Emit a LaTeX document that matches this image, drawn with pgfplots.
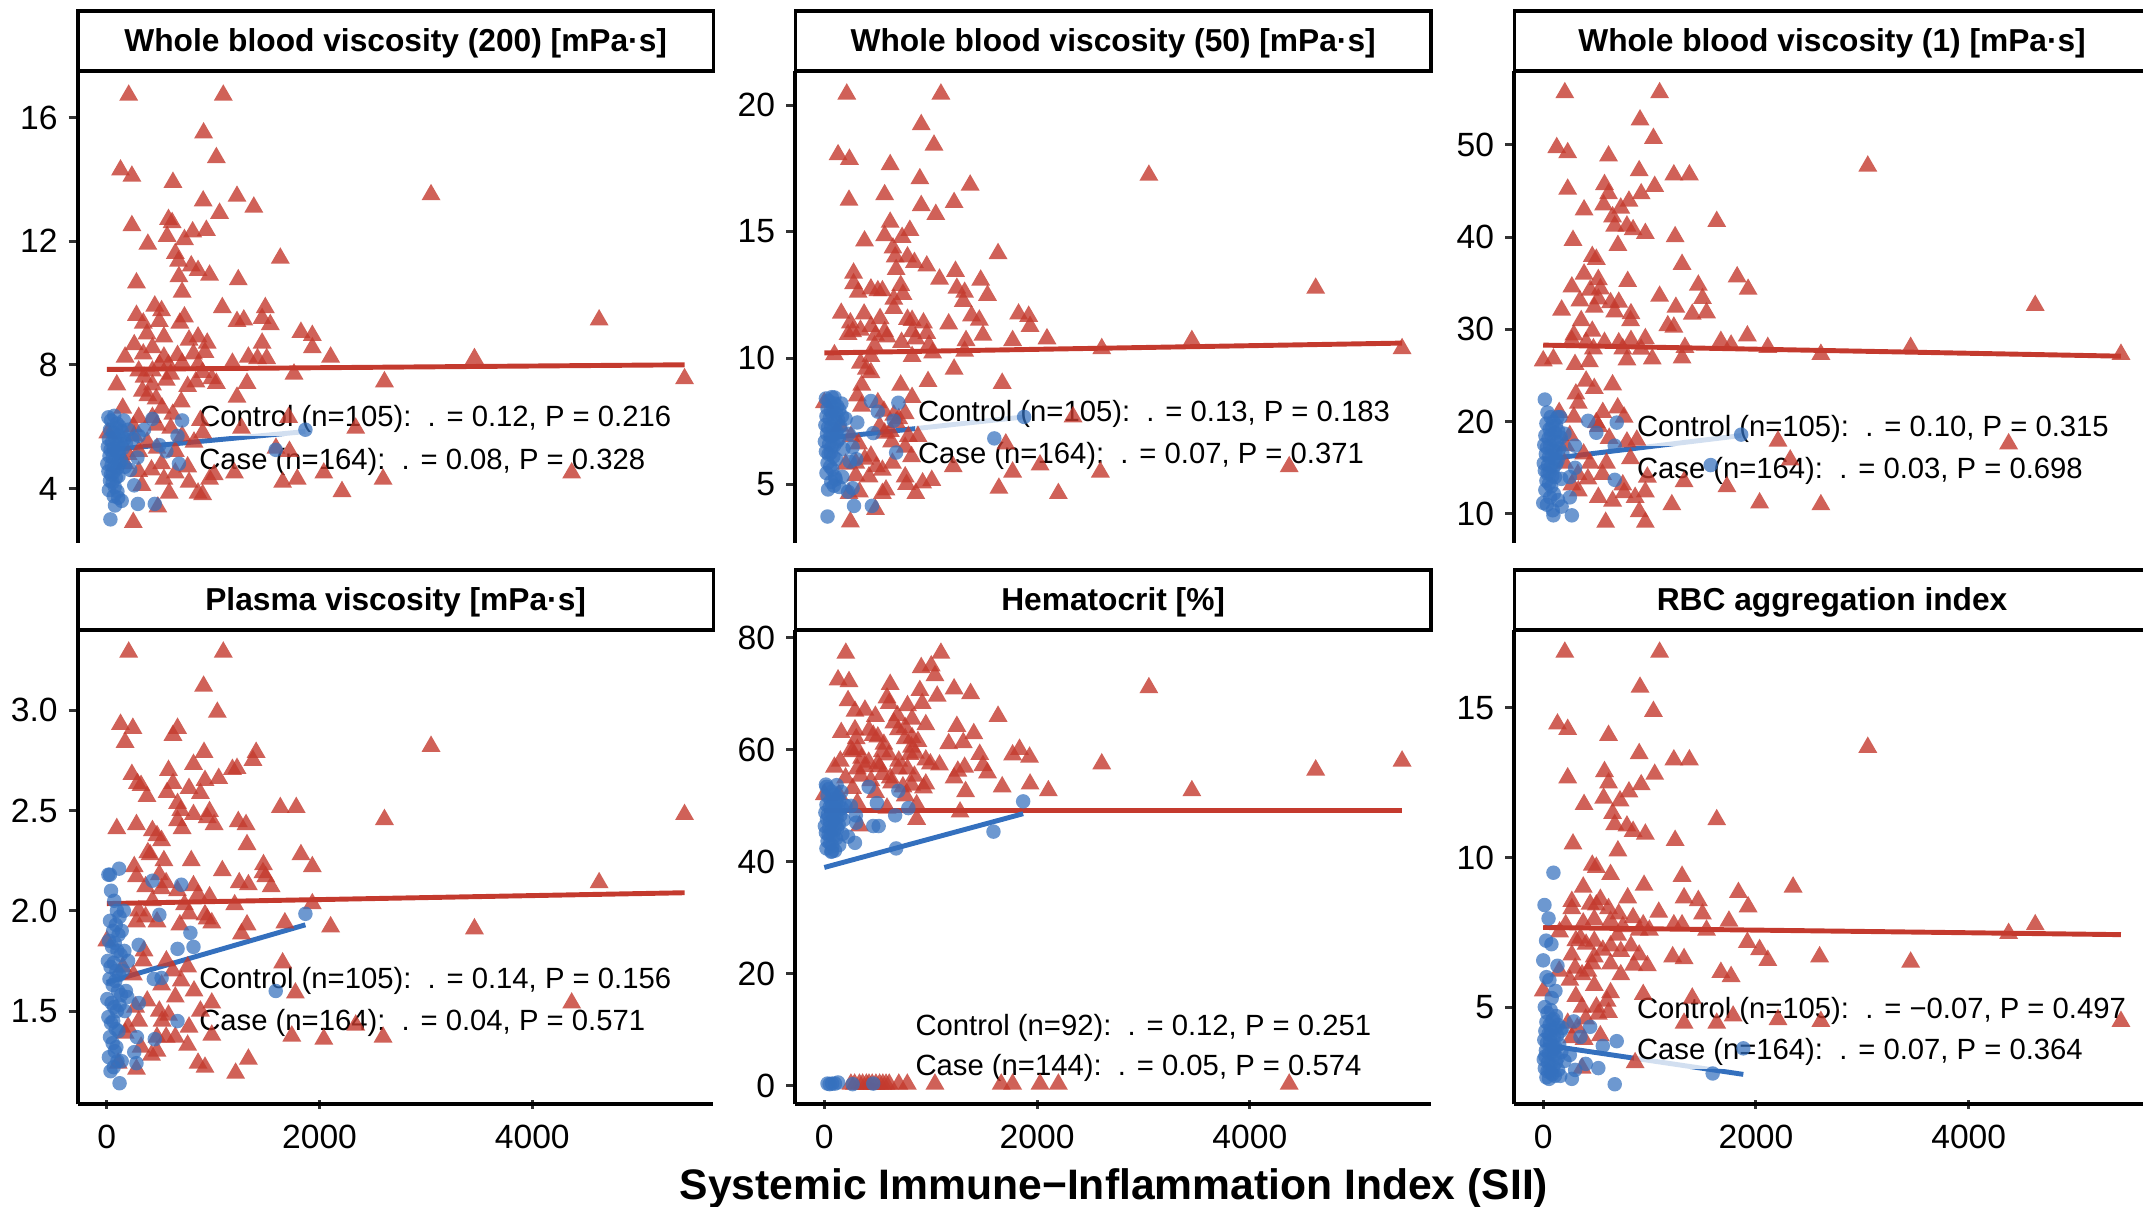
\documentclass[border=0pt]{standalone}
\usepackage{fontspec}
\setmainfont{Liberation Sans}
\usepackage{pgfplots}
\pgfplotsset{compat=1.18}

\definecolor{casered}{RGB}{196,58,46}
\definecolor{ctrlblue}{RGB}{52,112,190}
\definecolor{tickgray}{RGB}{51,51,51}

\pgfplotsset{
  facet/.style={
    scale only axis, width=232.5pt, height=172.5pt, anchor=south west,
    xmin=-271.6, xmax=5702.6,
    axis y line=left,
    axis line style={line width=1.5pt, black},
    y axis line style={-},
    tick align=outside, major tick length=3.4pt,
    major tick style={line width=1.1pt, tickgray},
    tick label style={font=\fontsize{12.3}{14}\selectfont},
    yticklabel style={xshift=-0.5pt},
    /pgf/number format/assume math mode=true,
    /pgf/number format/1000 sep={},
    scaled ticks=false,
  },
  toprow/.style={facet, axis x line=none, xtick=\empty},
  botrow/.style={facet, height=173.5pt, axis x line=bottom, x axis line style={-},
    xtick={0,2000,4000}, xticklabel style={yshift=-2.5pt}},
  casepts/.style={only marks, mark=triangle*, mark size=4.0pt,
    mark options={draw opacity=0, line width=0pt, fill=casered, fill opacity=0.8}},
  ctrlpts/.style={only marks, mark=*, mark size=2.65pt,
    mark options={draw opacity=0, line width=0pt, fill=ctrlblue, fill opacity=0.72}},
  caseline/.style={no marks, casered, line width=1.8pt},
  ctrlline/.style={no marks, ctrlblue, line width=1.8pt},
}
\tikzset{
  stat/.style={anchor=west, fill=white, fill opacity=0.78, text opacity=1,
    inner sep=1.2pt, font=\fontsize{10.7}{12}\selectfont},
}
\newcommand{\strip}[3]{%
  \draw[line width=1.3pt, fill=white] (#1,#2) rectangle ++(232.5pt,22pt);
  \node[font=\bfseries\fontsize{11.6}{14}\selectfont] at ([xshift=116.25pt,yshift=10pt]#1,#2) {#3};}

\begin{document}
\begin{tikzpicture}

% ---------- Whole blood viscosity (200) ----------
\begin{axis}[toprow, at={(28.5pt,243pt)}, ymin=2.25, ymax=17.5, ytick={4,8,12,16}]
\addplot[casepts] coordinates {
(206,16.72)(1095,16.72)(910,15.5)(1030,14.7)(129,14.3)(236,14.1)(622,13.9)(3048,13.5)(1224,13.45)(906,13.3)
(1382,13.1)(1060,12.9)(236,12.5)(580,12.7)(614,12.6)(936,12.35)(807,12.3)(567,12.15)(730,12.05)(386,11.9)
(644,11.6)(1631,11.45)(674,11.35)(794,11.2)(858,11.05)(966,10.9)(678,10.85)(279,10.65)(1236,10.75)(708,10.35)
(451,9.9)(1086,9.85)(1490,9.85)(279,9.6)(515,9.75)(730,9.55)(687,9.35)(1288,9.45)(1224,9.4)(1460,9.5)
(1537,9.3)(343,9.35)(494,9.4)(4628,9.45)(1825,9.05)(1932,8.95)(378,9.0)(537,8.9)(773,8.8)(858,8.9)
(944,8.7)(1460,8.7)(258,8.65)(429,8.55)(1932,8.55)(172,8.25)(343,8.35)(537,8.25)(665,8.3)(815,8.35)
(923,8.4)(1331,8.25)(1417,8.2)(1503,8.2)(2104,8.25)(3456,8.2)(1181,8.05)(494,8.0)(580,8.0)(708,8.05)
(858,8.0)(300,7.8)(429,7.8)(601,7.7)(901,7.75)(1760,7.7)(987,7.55)(837,7.45)(1030,7.4)(5431,7.55)
(2610,7.45)(1318,7.4)(94,7.35)(429,7.35)(335,7.15)(386,7.0)(464,6.9)(1224,6.95)(10,5.8)(1266,5.95)
(1709,6.3)(2340,5.95)(901,5.8)(1717,5.2)(2040,4.5)(1200,4.5)(4370,4.5)(1590,5.3)(300,6.3)(429,6.3)
(472,6.05)(601,5.95)(708,5.7)(472,5.3)(644,5.2)(300,5.2)(300,4.55)(515,4.8)(644,4.5)(537,4.3)
(773,4.2)(966,4.3)(1009,4.45)(1653,4.2)(1790,4.3)(2597,4.3)(2211,3.9)(858,3.85)(901,3.8)(586,3.85)
(480,3.4)(249,2.9)(172,4.8)(258,5.7)(350,7.6)(560,7.5)(760,7.3)(250,6.0)(380,5.5)(820,5.5)
(150,6.6)(520,6.6)(700,6.8)(880,6.2)(330,4.1)(420,4.6)(200,5.1)(620,6.4)(760,4.7)
};
\addplot[ctrlpts] coordinates {
(15,6.3)(40,6.2)(70,6.35)(95,6.1)(120,6.0)(30,5.9)(60,5.8)(85,5.95)(110,5.7)(140,5.85)
(20,5.6)(50,5.5)(75,5.65)(100,5.45)(130,5.55)(165,5.6)(10,5.35)(35,5.25)(65,5.3)(90,5.2)
(115,5.15)(150,5.3)(25,5.05)(55,5.0)(80,4.95)(105,5.1)(135,4.9)(5,4.8)(45,4.75)(70,4.7)
(95,4.65)(120,4.8)(15,4.55)(40,4.45)(60,4.5)(85,4.35)(110,4.4)(30,4.25)(55,4.2)(75,4.05)
(20,3.95)(100,3.9)(65,3.75)(140,3.6)(170,4.7)(180,5.45)(200,5.9)(160,6.2)
(34,3.0)(77,3.45)(292,3.5)(451,3.5)(107,3.7)(258,4.1)(429,6.25)(708,6.2)(300,5.7)(665,5.7)
(494,5.4)(678,4.8)(288,5.0)(1588,5.25)(1867,5.9)(240,5.6)(220,4.6)(350,5.9)(560,5.2)
};
\addplot[caseline] coordinates {(0,7.85)(5431,8.0)};
\addplot[ctrlline] coordinates {(0,5.24)(1867,5.84)};
\node[stat] at (rel axis cs:0.185,0.262) {Control (n=105):\ \ . = 0.12, P = 0.216};
\node[stat] at (rel axis cs:0.185,0.172) {Case (n=164):\ \ . = 0.08, P = 0.328};
\end{axis}
\strip{28.5pt}{415.5pt}{Whole blood viscosity (200) [mPa·s]}

% ---------- Whole blood viscosity (50) ----------
\begin{axis}[toprow, at={(291pt,243pt)}, ymin=2.7, ymax=21.35, ytick={5,10,15,20}]
\addplot[casepts] coordinates {
(211,20.44)(1096,20.44)(911,19.23)(1031,18.42)(129,18.04)(236,17.86)(619,17.65)(3051,17.23)(898,17.09)(1371,16.84)
(232,16.24)(567,16.46)(1220,16.15)(911,16.03)(1048,15.68)(619,15.37)(567,14.84)(804,15.05)(731,14.77)(378,14.63)
(645,14.35)(1633,14.13)(666,14.0)(782,14.0)(847,13.78)(963,13.64)(275,13.36)(1233,13.43)(675,13.5)(1083,13.12)
(1470,13.08)(4619,12.76)(275,12.94)(438,12.73)(503,12.66)(546,12.66)(718,12.87)(739,12.52)(1246,12.76)(1319,12.6)
(1534,12.48)(318,12.6)(653,12.33)(1306,12.24)(653,11.96)(159,11.77)(374,11.74)(1826,11.74)(1921,11.65)(524,11.56)
(782,11.53)(825,11.49)(1384,11.67)(1457,11.5)(245,11.39)(932,11.39)(1169,11.35)(438,11.25)(1934,11.25)(266,11.04)
(567,11.04)(825,11.04)(963,10.97)(481,10.9)(1491,10.9)(223,10.93)(589,10.83)(340,11.1)(2093,10.76)(1770,10.69)
(3455,10.69)(726,10.62)(860,10.76)(1332,10.69)(984,10.51)(473,10.48)(2608,10.37)(5431,10.37)(1018,10.2)(1319,10.27)
(95,10.13)(825,10.06)(340,9.8)(438,10.06)(395,9.56)(1220,9.56)(438,9.42)(352,8.93)(975,9.07)(1672,9.0)
(718,8.93)(0,8.23)(310,8.5)(503,8.23)(653,7.74)(2338,7.67)(825,8.44)(322,6.6)(632,6.68)(567,7.03)
(760,6.47)(1212,5.7)(2028,5.77)(1706,6.6)(4370,5.7)(1770,5.49)(2595,5.49)(296,5.84)(490,5.7)(640,5.84)
(438,6.12)(296,5.35)(546,5.56)(773,5.0)(924,5.06)(1010,5.16)(860,4.64)(546,4.64)(580,4.78)(1641,4.85)
(2200,4.64)(232,4.64)(481,4.01)(245,3.52)(790,6.9)(675,7.45)(350,8.1)(560,7.9)(760,7.8)(250,6.9)
(380,6.0)(820,6.1)(150,7.3)(520,7.3)(700,7.6)(880,6.9)(330,4.7)(420,5.3)(200,5.8)(620,7.1)(760,5.3)
};
\addplot[ctrlpts] coordinates {
(15,8.4)(40,8.3)(70,8.45)(95,8.2)(120,8.1)(30,8.0)(60,7.9)(85,8.05)(110,7.8)(140,7.95)
(20,7.7)(50,7.6)(75,7.75)(100,7.5)(130,7.55)(165,7.7)(10,7.35)(35,7.25)(65,7.3)(90,7.2)
(115,7.1)(150,7.3)(25,7.0)(55,6.9)(80,6.95)(105,7.0)(135,6.8)(5,6.7)(45,6.6)(70,6.5)
(95,6.55)(120,6.7)(15,6.3)(40,6.2)(60,6.25)(85,6.1)(110,6.0)(30,5.85)(55,5.7)(75,5.6)
(20,5.45)(100,5.3)(65,5.1)(140,4.9)(170,5.3)(180,6.4)(200,7.6)(160,8.2)(35,4.8)(90,4.95)
(30,3.73)(279,4.15)(447,4.15)(266,4.85)(223,4.71)(107,5.2)(438,8.3)(696,8.23)(95,8.44)(503,7.88)
(310,7.45)(653,7.52)(460,7.03)(675,6.26)(266,6.47)(1598,6.82)(1878,7.67)(230,7.0)(240,5.9)(300,6.0)
};
\addplot[caseline] coordinates {(0,10.2)(5431,10.59)};
\addplot[ctrlline] coordinates {(0,6.82)(1878,7.67)};
\node[stat] at (rel axis cs:0.187,0.273) {Control (n=105):\ \ . = 0.13, P = 0.183};
\node[stat] at (rel axis cs:0.187,0.183) {Case (n=164):\ \ . = 0.07, P = 0.371};
\end{axis}
\strip{291pt}{415.5pt}{Whole blood viscosity (50) [mPa·s]}

% ---------- Whole blood viscosity (1) ----------
\begin{axis}[toprow, at={(554pt,243pt)}, ymin=6.9, ymax=58.0, ytick={10,20,30,40,50}]
\addplot[casepts] coordinates {
(203,55.65)(1094,55.65)(910,52.7)(1036,50.7)(127,49.7)(230,49.15)(614,48.8)(3051,47.7)(902,47.2)(1228,46.75)
(1374,46.75)(1048,45.5)(230,45.2)(576,45.7)(614,44.7)(921,44.7)(806,43.9)(729,43.15)(384,42.95)(568,43.5)
(652,42.2)(1631,41.7)(672,41.2)(787,41.2)(845,40.8)(960,40.4)(280,39.65)(1240,40.05)(702,39.1)(1305,37.05)
(461,37.9)(499,37.6)(384,36.0)(518,35.4)(794,35.2)(1823,35.7)(269,34.6)(441,34.25)(537,34.4)(1458,34.8)
(1926,34.35)(1094,33.6)(1497,33.35)(345,33.1)(518,33.3)(633,32.9)(710,32.95)(4625,32.6)(173,32.1)(480,32.4)
(672,31.9)(825,31.7)(1247,32.4)(1401,31.65)(1535,31.8)(357,30.95)(821,30.95)(1171,30.4)(1228,30.25)(288,29.4)
(461,29.8)(1919,29.3)(269,28.8)(403,28.6)(576,28.6)(710,28.55)(825,28.8)(960,29.0)(1670,28.7)(1766,28.3)
(1332,28.05)(2111,28.05)(3454,28.05)(472,27.9)(748,27.9)(921,27.85)(2610,27.3)(5431,27.3)(0,26.6)(96,26.8)
(299,26.2)(434,26.5)(787,26.7)(1025,26.8)(1305,26.9)(403,24.4)(480,23.6)(652,24.0)(307,23.0)(288,20.5)
(499,19.9)(787,17.8)(2207,17.9)(4375,17.6)(595,15.5)(1324,13.5)(1727,12.95)(2322,15.85)(518,11.8)(652,11.4)
(864,11.8)(960,12.4)(1209,11.0)(2034,11.2)(2610,11.0)(902,10.25)(587,9.1)(960,9.1)(269,13.15)(326,14.3)
(557,14.3)(441,15.5)(979,14.0)(748,13.15)(211,17.4)(330,22.0)(560,21.0)(760,20.5)(250,18.5)(380,16.5)
(820,16.0)(150,21.0)(520,19.5)(700,21.5)(880,18.0)(330,12.5)(420,13.8)(200,15.5)(620,18.2)(760,12.3)
};
\addplot[ctrlpts] coordinates {
(15,22.4)(40,21.0)(70,20.5)(95,20.0)(120,19.6)(30,19.8)(60,19.2)(85,19.5)(110,18.8)(140,19.0)
(20,18.5)(50,18.2)(75,18.6)(100,18.0)(130,17.8)(165,18.3)(10,17.5)(35,17.2)(65,17.4)(90,17.0)
(115,16.8)(150,17.1)(25,16.5)(55,16.2)(80,16.4)(105,16.0)(135,15.8)(5,15.5)(45,15.3)(70,15.1)
(95,15.0)(120,15.4)(15,14.7)(40,14.4)(60,14.5)(85,14.1)(110,14.0)(30,13.6)(55,13.3)(75,13.0)
(20,12.6)(100,12.2)(65,11.8)(140,11.5)(170,13.8)(180,16.6)(200,18.7)(160,20.5)(35,11.0)(90,10.4)
(0,11.2)(96,9.85)(269,9.85)(250,11.8)(173,10.8)(672,13.7)(134,20.5)(422,20.1)(499,18.8)(691,19.9)
(299,17.4)(672,17.4)(1574,15.3)(1861,18.6)(300,15.0)(250,14.0)
};
\addplot[caseline] coordinates {(0,28.3)(5431,27.1)};
\addplot[ctrlline] coordinates {(0,15.9)(1861,18.5)};
\node[stat] at (rel axis cs:0.187,0.241) {Control (n=105):\ \ . = 0.10, P = 0.315};
\node[stat] at (rel axis cs:0.187,0.151) {Case (n=164):\ \ . = 0.03, P = 0.698};
\end{axis}
\strip{554pt}{415.5pt}{Whole blood viscosity (1) [mPa·s]}

% ---------- Plasma viscosity ----------
\begin{axis}[botrow, at={(28.5pt,37.5pt)}, ymin=1.035, ymax=3.40, ytick={1.5,2.0,2.5,3.0},
  yticklabel style={/pgf/number format/.cd, fixed, fixed zerofill, precision=1}]
\addplot[casepts] coordinates {
(206,3.29)(1095,3.29)(910,3.12)(1039,2.99)(129,2.93)(245,2.91)(665,2.91)(622,2.875)(172,2.84)(3048,2.82)
(1404,2.79)(1374,2.75)(914,2.79)(815,2.73)(1224,2.71)(1181,2.705)(580,2.7)(236,2.68)(322,2.625)(288,2.635)
(923,2.65)(1052,2.66)(622,2.635)(567,2.59)(773,2.61)(880,2.585)(378,2.57)(665,2.535)(1631,2.515)(1781,2.515)
(695,2.5)(815,2.48)(966,2.495)(2610,2.455)(5431,2.48)(944,2.465)(665,2.45)(1236,2.445)(1309,2.43)(1009,2.43)
(279,2.43)(94,2.41)(429,2.4)(708,2.41)(472,2.375)(515,2.35)(1318,2.33)(386,2.29)(407,2.28)(1825,2.28)
(794,2.25)(537,2.25)(258,2.22)(1086,2.2)(1473,2.23)(1932,2.22)(1468,2.19)(494,2.18)(279,2.17)(1494,2.17)
(4628,2.14)(1245,2.14)(1331,2.13)(1545,2.12)(815,2.125)(558,2.14)(365,2.12)(515,2.11)(665,2.1)(858,2.08)
(966,2.07)(429,2.05)(1202,2.03)(1932,2.035)(730,2.03)(300,2.0)(365,1.97)(773,1.985)(923,1.98)(279,1.945)
(472,1.945)(687,1.93)(987,1.94)(1318,1.93)(1674,1.94)(2104,1.92)(3456,1.91)(944,1.96)(1266,1.885)(0,1.85)
(343,1.75)(1653,1.74)(515,1.63)(644,1.57)(1773,1.59)(987,1.54)(4370,1.54)(270,1.52)(494,1.5)(580,1.48)
(300,1.45)(773,1.42)(2340,1.43)(987,1.38)(1739,1.375)(2040,1.36)(2597,1.37)(472,1.37)(558,1.37)(644,1.37)
(322,1.32)(472,1.3)(107,1.24)(279,1.21)(858,1.24)(923,1.22)(1331,1.26)(1211,1.19)(172,1.39)(350,1.8)
(560,1.75)(760,1.72)(250,1.68)(380,1.55)(820,1.6)(150,1.72)(520,1.45)(700,1.65)(880,1.5)(420,1.28)
(200,1.42)(620,1.7)(760,1.33)
};
\addplot[ctrlpts] coordinates {
(15,2.18)(40,2.1)(70,2.05)(95,2.0)(120,1.97)(30,1.95)(60,1.9)(85,1.93)(110,1.88)(140,1.9)
(20,1.85)(50,1.82)(75,1.84)(100,1.8)(130,1.78)(165,1.8)(10,1.75)(35,1.72)(65,1.74)(90,1.7)
(115,1.68)(150,1.7)(25,1.66)(55,1.63)(80,1.65)(105,1.6)(135,1.58)(5,1.56)(45,1.54)(70,1.52)
(95,1.5)(120,1.53)(15,1.47)(40,1.44)(60,1.45)(85,1.41)(110,1.4)(30,1.37)(55,1.34)(75,1.3)
(20,1.27)(100,1.25)(65,1.22)(140,1.25)(170,1.5)(180,1.6)(200,1.75)(160,2.0)(35,1.2)(90,1.32)
(120,1.14)(30,2.18)(116,2.21)(429,2.15)(700,2.13)(494,1.98)(786,1.89)(815,1.82)(665,1.81)(300,1.83)
(442,1.66)(515,1.665)(1588,1.6)(1867,1.985)(283,1.37)(665,1.45)(451,1.36)(258,1.295)(279,1.24)(193,1.57)
(300,1.54)
};
\addplot[caseline] coordinates {(0,2.036)(5431,2.09)};
\addplot[ctrlline] coordinates {(0,1.643)(1867,1.93)};
\node[stat] at (rel axis cs:0.185,0.26) {Control (n=105):\ \ . = 0.14, P = 0.156};
\node[stat] at (rel axis cs:0.185,0.171) {Case (n=164):\ \ . = 0.04, P = 0.571};
\end{axis}
\strip{28.5pt}{211pt}{Plasma viscosity [mPa·s]}

% ---------- Hematocrit ----------
\begin{axis}[botrow, at={(291pt,37.5pt)}, ymin=-3.3, ymax=81.4, ytick={0,20,40,60,80}]
\addplot[casepts] coordinates {
(202,77.26)(1096,77.26)(911,74.7)(1005,75.0)(1040,73.25)(129,72.5)(232,72.2)(619,71.7)(3051,71.1)(1220,70.9)
(1375,70.06)(898,70.6)(1061,69.6)(589,69.3)(223,68.8)(610,68.3)(920,68.3)(382,67.1)(288,66.9)(782,67.9)
(688,66.1)(1633,66.0)(825,65.5)(954,64.5)(653,64.8)(159,63.1)(288,63.6)(1246,64.2)(696,63.6)(1405,62.9)
(503,62.3)(460,62.6)(825,62.2)(1169,61.1)(1306,61.3)(95,56.9)(266,59.7)(310,60.1)(546,59.7)(606,59.1)
(804,59.2)(856,59.4)(1461,59.2)(1770,59.1)(1835,60.1)(1929,58.7)(2608,57.5)(5431,58.0)(4619,56.4)(417,57.8)
(503,57.5)(954,58.2)(997,57.5)(1083,57.3)(1491,57.2)(1534,55.9)(310,56.6)(696,56.6)(782,56.6)(1255,56.2)
(1319,56.9)(340,55.3)(546,55.6)(847,55.3)(1220,55.0)(438,54.5)(632,54.1)(739,53.4)(821,53.7)(954,53.9)
(1934,53.9)(1672,53.4)(266,53.1)(481,52.4)(1328,52.55)(2106,52.7)(3455,52.7)(0,52.0)(137,52.0)(310,50.5)
(868,50.2)(761,51.8)(1276,48.9)(868,47.6)(331,46.4)(589,49.6)(932,53.2)(350,58.5)(560,61.0)(760,62.0)
(250,60.0)(380,57.0)(820,60.5)(150,58.0)(520,57.0)(700,58.0)(880,61.5)(420,63.5)(200,55.0)(620,55.0)
(760,64.0)(300,62.0)(480,66.0)
(250,0.3)(285,0.3)(330,0.3)(360,0.3)(395,0.3)(420,0.3)(450,0.3)(485,0.3)(520,0.3)(550,0.3)
(580,0.3)(610,0.3)(700,0.3)(780,0.3)(1040,0.3)(1663,0.3)(1770,0.3)(2028,0.3)(2200,0.3)(4370,0.3)
};
\addplot[ctrlpts] coordinates {
(15,53.8)(40,53.0)(70,52.5)(95,52.0)(120,51.5)(30,51.8)(60,51.0)(85,51.3)(110,50.6)(140,50.8)
(20,50.2)(50,49.8)(75,50.1)(100,49.5)(130,49.2)(165,49.6)(10,48.8)(35,48.5)(65,48.7)(90,48.2)
(115,47.9)(150,48.3)(25,47.6)(55,47.2)(80,47.4)(105,47.0)(135,46.7)(5,46.4)(45,46.1)(70,45.8)
(95,45.6)(120,46.0)(15,45.2)(40,44.8)(60,44.9)(85,44.4)(110,44.2)(30,43.7)(55,43.3)(75,42.8)
(20,42.4)(100,42.0)(65,41.8)(140,43.0)(170,45.0)(180,47.5)(200,50.0)(160,52.5)
(21,53.4)(116,53.7)(417,53.4)(696,52.7)(494,50.5)(790,49.6)(666,48.3)(296,48.3)(460,46.4)(511,46.4)
(288,43.4)(675,42.4)(1590,45.4)(1869,50.8)(73,41.9)(223,44.5)(250,50.0)(300,47.0)
(30,0.4)(73,0.4)(129,0.6)(266,0.3)(460,0.4)(50,0.3)(100,0.4)
};
\addplot[caseline] coordinates {(0,49.2)(5431,49.2)};
\addplot[ctrlline] coordinates {(0,39.0)(1869,48.6)};
\node[stat] at (rel axis cs:0.183,0.162) {Control (n=92):\ \ . = 0.12, P = 0.251};
\node[stat] at (rel axis cs:0.183,0.076) {Case (n=144):\ \ . = 0.05, P = 0.574};
\end{axis}
\strip{291pt}{211pt}{Hematocrit [\%]}

% ---------- RBC aggregation index ----------
\begin{axis}[botrow, at={(554pt,37.5pt)}, ymin=1.75, ymax=17.6, ytick={5,10,15}]
\addplot[casepts] coordinates {
(203,16.86)(1094,16.86)(910,15.69)(1036,14.88)(134,14.46)(230,14.28)(614,14.08)(3051,13.68)(902,13.47)(1228,13.26)
(1374,13.26)(576,12.87)(1048,12.78)(230,12.66)(614,12.49)(921,12.43)(806,12.19)(722,11.89)(384,11.77)(568,11.98)
(652,11.47)(1631,11.26)(672,11.1)(787,11.05)(845,10.87)(960,10.78)(280,10.45)(1240,10.57)(702,10.22)(461,9.74)
(499,9.67)(633,9.43)(1305,9.37)(376,9.01)(2349,9.01)(948,9.07)(1835,8.83)(537,8.6)(441,8.44)(269,8.53)
(794,8.65)(1324,8.65)(1458,8.56)(1926,8.35)(269,8.29)(499,8.41)(614,8.29)(710,8.11)(1086,8.17)(1497,8.11)
(845,7.99)(4625,7.75)(376,7.81)(480,7.93)(940,7.75)(1228,7.75)(1305,7.75)(1746,7.87)(211,7.75)(633,7.87)
(748,7.69)(902,7.57)(998,7.57)(1535,7.57)(154,7.51)(4375,7.46)(1919,7.16)(2034,6.92)(307,7.22)(403,7.1)
(633,7.04)(825,7.04)(729,6.86)(902,6.74)(269,6.74)(480,6.68)(1217,6.68)(1324,6.62)(2111,6.56)(2598,6.68)
(3454,6.5)(461,6.44)(633,6.44)(979,6.38)(365,6.08)(729,6.08)(1670,6.16)(1766,6.02)(480,5.72)(633,5.48)
(0,5.54)(307,5.36)(518,4.76)(614,4.82)(365,5.0)(940,5.42)(1401,5.3)(1324,4.46)(1631,4.46)(1785,4.7)
(2207,4.58)(2610,4.52)(5431,4.52)(269,3.98)(384,3.92)(537,4.04)(864,3.14)(365,2.96)(230,4.46)(350,7.3)
(560,6.9)(420,6.2)(250,5.9)(600,5.2)(320,4.3)(150,6.2)(700,7.4)(480,7.2)(850,6.4)(300,6.3)
(500,5.0)(400,4.6)
};
\addplot[ctrlpts] coordinates {
(15,5.0)(40,4.8)(70,4.9)(95,4.6)(120,4.7)(30,4.5)(60,4.4)(85,4.55)(110,4.3)(140,4.4)
(20,4.2)(50,4.1)(75,4.25)(100,4.0)(130,4.05)(165,4.2)(10,3.9)(35,3.8)(65,3.85)(90,3.7)
(115,3.65)(150,3.75)(25,3.55)(55,3.45)(80,3.5)(105,3.4)(135,3.3)(5,3.25)(45,3.15)(70,3.1)
(95,3.0)(120,3.15)(15,2.95)(40,2.85)(60,2.9)(85,2.75)(110,2.7)(30,2.65)(55,2.6)(75,2.8)
(20,3.35)(100,3.6)(65,4.05)(140,2.9)(170,3.5)(180,4.3)(200,3.2)(160,2.7)
(96,9.49)(12,8.41)(50,7.96)(27,7.22)(77,7.1)(0,6.56)(134,6.38)(58,5.9)(115,5.54)(288,4.52)
(441,4.34)(691,3.86)(518,2.96)(672,2.42)(1593,2.78)(1881,3.62)(269,2.6)(30,6.0)(80,5.3)(250,3.4)
(400,3.1)(300,2.9)(560,3.7)(350,4.0)
};
\addplot[caseline] coordinates {(0,7.66)(5431,7.42)};
\addplot[ctrlline] coordinates {(0,3.74)(1881,2.75)};
\node[stat] at (rel axis cs:0.187,0.197) {Control (n=105):\ \ . = −0.07, P = 0.497};
\node[stat] at (rel axis cs:0.187,0.11) {Case (n=164):\ \ . = 0.07, P = 0.364};
\end{axis}
\strip{554pt}{211pt}{RBC aggregation index}

\node[font=\bfseries\fontsize{15.6}{18}\selectfont] at (407.5pt,6.8pt)
  {Systemic Immune−Inflammation Index (SII)};

\pgfresetboundingbox
\path[use as bounding box] (0,0) rectangle (784pt,441.5pt);
\end{tikzpicture}
\end{document}
